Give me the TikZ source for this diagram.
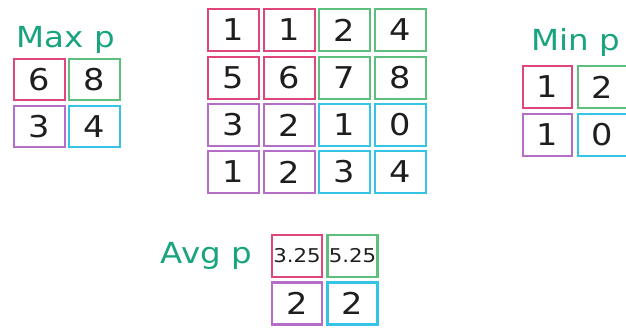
\documentclass[tikz,border=0pt]{standalone}
\usepackage{fontspec}
\setmainfont{DejaVu Sans}[FakeStretch=1.12]
\definecolor{cpink}{HTML}{E0457B}
\definecolor{cgreen}{HTML}{5DBE7E}
\definecolor{cpurple}{HTML}{B46EC8}
\definecolor{ccyan}{HTML}{35C3E6}
\definecolor{cteal}{HTML}{19A37F}
\definecolor{cdigit}{HTML}{1E1E1E}
\tikzset{
  cell/.style={line width=2.4pt, inner sep=0pt, text=cdigit, font=\fontsize{30}{30}\selectfont},
  mx/.style={cell, minimum width=51pt, minimum height=41pt},
  cg/.style={cell, minimum width=51pt, minimum height=42pt},
  mn/.style={cell, minimum width=49pt, minimum height=42pt},
  av/.style={cell, minimum width=50pt, minimum height=42pt},
  small/.style={font=\fontsize{19}{19}\selectfont},
  lbl/.style={text=cteal, anchor=base, inner sep=0pt, font=\fontsize{29}{29}\selectfont}
}
\begin{document}
\begin{tikzpicture}[x=1pt,y=-1pt]
\useasboundingbox (0,0) rectangle (626,327);
\clip (0,0) rectangle (626,327);
% Max p
\node[lbl] (maxl) at (66,47) {Max p};
\node[mx, draw=cpink]   (mx11) at (39.5,79.5) {6};
\node[mx, draw=cgreen]  (mx12) at (94.5,79.5) {8};
\node[mx, draw=cpurple] (mx21) at (39.5,126.5) {3};
\node[mx, draw=ccyan]   (mx22) at (94.5,126.5) {4};
% center grid
\node[cg, draw=cpink]   (g11) at (233.5,30) {1};
\node[cg, draw=cpink]   (g12) at (289.5,30) {1};
\node[cg, draw=cgreen]  (g13) at (344.5,30) {2};
\node[cg, draw=cgreen]  (g14) at (400.5,30) {4};
\node[cg, draw=cpink]   (g21) at (233.5,78) {5};
\node[cg, draw=cpink]   (g22) at (289.5,78) {6};
\node[cg, draw=cgreen]  (g23) at (344.5,78) {7};
\node[cg, draw=cgreen]  (g24) at (400.5,78) {8};
\node[cg, draw=cpurple] (g31) at (233.5,125) {3};
\node[cg, draw=cpurple] (g32) at (289.5,125) {2};
\node[cg, draw=ccyan]   (g33) at (344.5,125) {1};
\node[cg, draw=ccyan]   (g34) at (400.5,125) {0};
\node[cg, draw=cpurple] (g41) at (233.5,172) {1};
\node[cg, draw=cpurple] (g42) at (289.5,172) {2};
\node[cg, draw=ccyan]   (g43) at (344.5,172) {3};
\node[cg, draw=ccyan]   (g44) at (400.5,172) {4};
% Min p
\node[lbl] (minl) at (575.5,50) {Min p};
\node[mn, draw=cpink]   (mn11) at (547.5,87) {1};
\node[mn, draw=cgreen]  (mn12) at (602.5,87) {2};
\node[mn, draw=cpurple] (mn21) at (547.5,135) {1};
\node[mn, draw=ccyan]   (mn22) at (602.5,135) {0};
% Avg p
\node[lbl] (avgl) at (206.5,263) {Avg p};
\node[av, draw=cpink, small]   (av11) at (297,256) {3.25};
\node[av, draw=cgreen, small]  (av12) at (352.5,256) {5.25};
\node[av, draw=cpurple] (av21) at (297,303.5) {2};
\node[av, draw=ccyan]   (av22) at (352.5,303.5) {2};
\end{tikzpicture}
\end{document}
